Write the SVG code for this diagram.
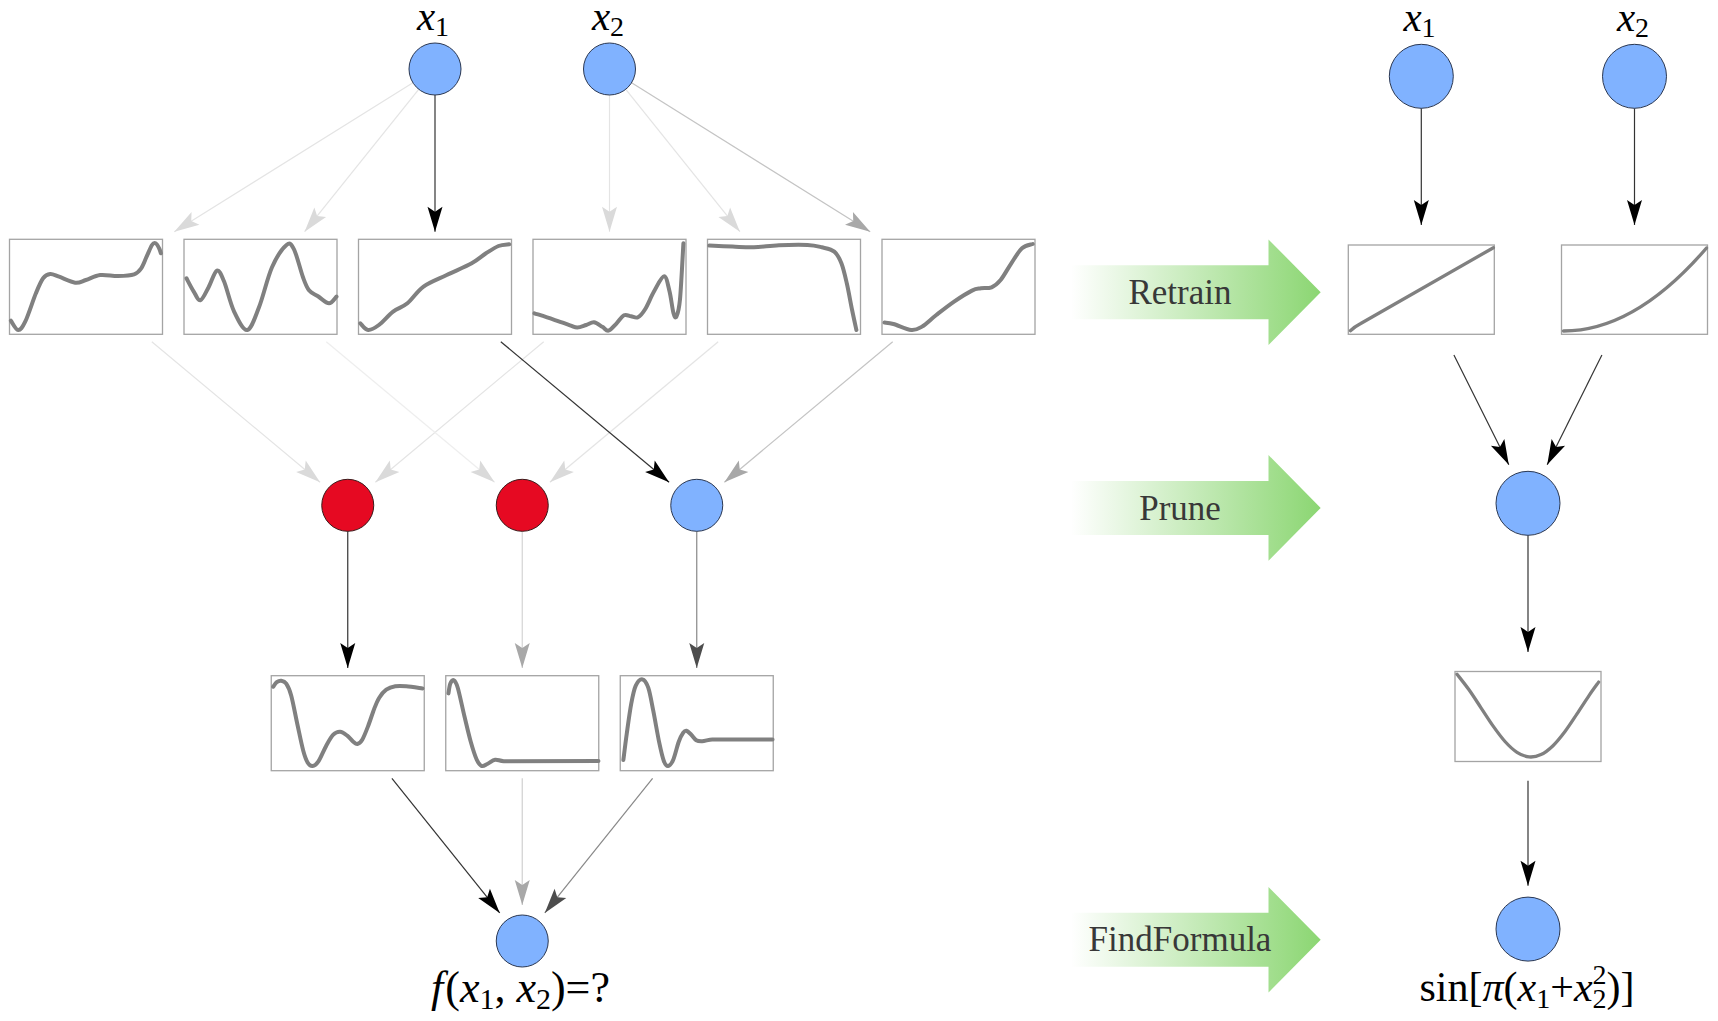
<svg xmlns="http://www.w3.org/2000/svg" width="1718" height="1021" viewBox="0 0 1718 1021">
<defs>
<style>
.box{fill:#fff;stroke:#a4a4a4;stroke-width:1.3}
.crv{fill:none;stroke:#808080;stroke-width:4;stroke-linecap:round;stroke-linejoin:round}
.crv2{fill:none;stroke:#808080;stroke-width:3.3;stroke-linecap:round;stroke-linejoin:round}
.nb{fill:#80b2ff;stroke:#2b3852;stroke-width:1}
.nr{fill:#e60922;stroke:#3a1a1a;stroke-width:1}
.lbl{font-size:41px;fill:#000}
.lb2{font-size:44px;fill:#000}
.lb3{font-size:42px;fill:#000}
.it{font-style:italic}
.sub{font-size:28px;font-style:normal}
.sub2{font-size:30px;font-style:normal}
.step{font-size:35px;fill:#383838;text-anchor:middle}
.e line{stroke-width:1.2;fill:none}
.k{stroke:#333}
.d{stroke:#888}
.m{stroke:#c4c4c4}
.l{stroke:#e4e4e4}
</style>
<marker id="mk" viewBox="-26 -8 27 16" refX="0" refY="0" markerWidth="27" markerHeight="16" markerUnits="userSpaceOnUse" orient="auto"><path d="M0,0L-25,-7.5L-20,0L-25,7.5Z" fill="#000"/></marker>
<marker id="md" viewBox="-26 -8 27 16" refX="0" refY="0" markerWidth="27" markerHeight="16" markerUnits="userSpaceOnUse" orient="auto"><path d="M0,0L-25,-7.5L-20,0L-25,7.5Z" fill="#4d4d4d"/></marker>
<marker id="mm" viewBox="-26 -8 27 16" refX="0" refY="0" markerWidth="27" markerHeight="16" markerUnits="userSpaceOnUse" orient="auto"><path d="M0,0L-25,-7.5L-20,0L-25,7.5Z" fill="#a8a8a8"/></marker>
<marker id="ml" viewBox="-26 -8 27 16" refX="0" refY="0" markerWidth="27" markerHeight="16" markerUnits="userSpaceOnUse" orient="auto"><path d="M0,0L-25,-7.5L-20,0L-25,7.5Z" fill="#dadada"/></marker>
<linearGradient id="gg" gradientUnits="userSpaceOnUse" x1="1071" y1="0" x2="1321" y2="0"><stop offset="0" stop-color="#ffffff"/><stop offset="1" stop-color="#8bd672"/></linearGradient>
</defs>
<rect width="1718" height="1021" fill="#fff"/>

<g id="connectors" class="e">
<line class="l" x1="412.9" y1="82.8" x2="174.3" y2="231.7" marker-end="url(#ml)"/>
<line class="l" x1="418.7" y1="89.3" x2="304.6" y2="231.7" marker-end="url(#ml)"/>
<line class="k" x1="435" y1="95" x2="435" y2="231.7" marker-end="url(#mk)"/>
<line class="l" x1="609.5" y1="95" x2="609.5" y2="231.7" marker-end="url(#ml)"/>
<line class="l" x1="625.8" y1="89.3" x2="739.9" y2="231.7" marker-end="url(#ml)"/>
<line class="m" x1="631.6" y1="82.8" x2="870.2" y2="231.7" marker-end="url(#mm)"/>
<line class="l" x1="151.8" y1="341.7" x2="320.1" y2="482.2" marker-end="url(#ml)"/>
<line class="l" x1="543.7" y1="341.7" x2="375.4" y2="482.2" marker-end="url(#ml)"/>
<line class="l" x1="326.3" y1="341.7" x2="494.6" y2="482.2" marker-end="url(#ml)" style="stroke:#eeeeee"/>
<line class="l" x1="718.2" y1="341.7" x2="549.9" y2="482.2" marker-end="url(#ml)"/>
<line class="k" x1="500.8" y1="341.7" x2="669.1" y2="482.2" marker-end="url(#mk)"/>
<line class="m" x1="892.7" y1="341.7" x2="724.4" y2="482.2" marker-end="url(#mm)"/>
<line class="k" x1="347.75" y1="531.3" x2="347.75" y2="668.1" marker-end="url(#mk)"/>
<line class="m" x1="522.25" y1="531.3" x2="522.25" y2="668.1" marker-end="url(#mm)" style="stroke:#d4d4d4"/>
<line class="d" x1="696.75" y1="531.3" x2="696.75" y2="668.1" marker-end="url(#md)"/>
<line class="k" x1="391.9" y1="778.3" x2="499.7" y2="912.9" marker-end="url(#mk)"/>
<line class="m" x1="522.25" y1="778.3" x2="522.25" y2="905" marker-end="url(#mm)" style="stroke:#d0d0d0"/>
<line class="d" x1="652.6" y1="778.3" x2="544.8" y2="912.9" marker-end="url(#md)"/>
<line class="k" x1="1421.3" y1="108.3" x2="1421.3" y2="225" marker-end="url(#mk)"/>
<line class="k" x1="1634.5" y1="108.3" x2="1634.5" y2="225" marker-end="url(#mk)"/>
<line class="k" x1="1453.9" y1="355" x2="1508.8" y2="464.8" marker-end="url(#mk)"/>
<line class="k" x1="1601.9" y1="355" x2="1547.2" y2="464.8" marker-end="url(#mk)"/>
<line class="k" x1="1528" y1="535.3" x2="1528" y2="651.9" marker-end="url(#mk)"/>
<line class="k" x1="1528" y1="780.7" x2="1528" y2="885.7" marker-end="url(#mk)"/>
</g>

<g id="in-x1"><circle class="nb" cx="435" cy="69" r="26"/><text class="lbl" font-family="Liberation Serif, Times New Roman, serif" x="433" y="30" text-anchor="middle"><tspan class="it">x</tspan><tspan class="sub" dy="6">1</tspan></text></g>
<g id="in-x2"><circle class="nb" cx="609.5" cy="69" r="26"/><text class="lbl" font-family="Liberation Serif, Times New Roman, serif" x="608" y="30" text-anchor="middle"><tspan class="it">x</tspan><tspan class="sub" dy="6">2</tspan></text></g>

<g id="f1" transform="translate(9.5,239.3)"><rect class="box" width="153" height="95"/><path class="crv" d="M1.4,81.4C2.6,82.95 6.22,90.53 8.6,90.7C10.98,90.87 12.73,88.52 15.7,82.4C18.67,76.28 23.42,61.23 26.4,54C29.38,46.77 31.22,42.22 33.6,39C35.98,35.78 38.03,34.97 40.7,34.7C43.37,34.43 45.43,35.95 49.6,37.4C53.77,38.85 61.23,42.85 65.7,43.4C70.17,43.95 72.23,41.98 76.4,40.7C80.57,39.42 85.33,36.37 90.7,35.7C96.07,35.03 102.95,36.82 108.6,36.7C114.25,36.58 120.75,36.28 124.6,35C128.45,33.72 129.62,31.93 131.7,29C133.78,26.07 135.3,21.28 137.1,17.4C138.9,13.52 141,7.93 142.5,5.7C144,3.47 144.92,3.45 146.1,4C147.28,4.55 148.72,7.33 149.6,9C150.48,10.67 151.1,13.17 151.4,14"/></g>
<g id="f2" transform="translate(184,239.3)"><rect class="box" width="153" height="95"/><path class="crv" d="M2.5,39C3.68,41.17 7.28,48.38 9.6,52C11.92,55.62 13.9,61.67 16.4,61C18.9,60.33 21.85,52.95 24.6,48C27.35,43.05 30.33,32.3 32.9,31.3C35.47,30.3 37.15,35.22 40,42C42.85,48.78 46.13,63.88 50,72C53.87,80.12 59.03,91.37 63.2,90.7C67.37,90.03 70.87,78.45 75,68C79.13,57.55 83.42,38.38 88,28C92.58,17.62 98.83,8.7 102.5,5.7C106.17,2.7 107.25,4.62 110,10C112.75,15.38 116.5,31.17 119,38C121.5,44.83 122.5,47.83 125,51C127.5,54.17 130.67,54.83 134,57C137.33,59.17 141.92,63.95 145,64C148.08,64.05 151.25,58.42 152.5,57.3"/></g>
<g id="f3" transform="translate(358.5,239.3)"><rect class="box" width="153" height="95"/><path class="crv" d="M1.8,84C3.1,85.12 6.5,90.42 9.6,90.7C12.7,90.98 16.23,88.77 20.4,85.7C24.57,82.63 29.85,75.92 34.6,72.3C39.35,68.68 43.83,68.17 48.9,64C53.97,59.83 58.45,52.02 65,47.3C71.55,42.58 80.17,39.58 88.2,35.7C96.23,31.82 106.65,27.62 113.2,24C119.75,20.38 123.03,16.88 127.5,14C131.97,11.12 136.13,8.2 140,6.7C143.87,5.2 148.92,5.28 150.7,5"/></g>
<g id="f4" transform="translate(533,239.3)"><rect class="box" width="153" height="95"/><path class="crv" d="M1.4,74C4.5,75 14.07,78 20,80C25.93,82 32.95,84.62 37,86C41.05,87.38 41.6,88.35 44.3,88.3C47,88.25 50.42,86.58 53.2,85.7C55.98,84.82 58.32,82.7 61,83C63.68,83.3 66.88,86.12 69.3,87.5C71.72,88.88 73.12,91.88 75.5,91.3C77.88,90.72 81.02,86.55 83.6,84C86.18,81.45 88.6,77.17 91,76C93.4,74.83 95.67,76.67 98,77C100.33,77.33 102.65,79.17 105,78C107.35,76.83 109.42,74.33 112.1,70C114.78,65.67 117.93,57.5 121.1,52C124.27,46.5 128.53,37 131.1,37C133.67,37 134.93,45.83 136.5,52C138.07,58.17 139.33,69.83 140.5,74C141.67,78.17 142.42,79.33 143.5,77C144.58,74.67 145.85,72.17 147,60C148.15,47.83 149.83,13.33 150.4,4"/></g>
<g id="f5" transform="translate(707.5,239.3)"><rect class="box" width="153" height="95"/><path class="crv" d="M1.8,6.3C5.67,6.47 17.57,7.02 25,7.3C32.43,7.58 38.67,8.22 46.4,8C54.13,7.78 62.47,6.38 71.4,6C80.33,5.62 92.85,5.37 100,5.7C107.15,6.03 109.83,6.9 114.3,8C118.77,9.1 123.53,9.63 126.8,12.3C130.07,14.97 131.82,18.72 133.9,24C135.98,29.28 137.52,36.22 139.3,44C141.08,51.78 143,62.92 144.6,70.7C146.2,78.48 148.18,87.37 148.9,90.7"/></g>
<g id="f6" transform="translate(882,239.3)"><rect class="box" width="153" height="95"/><path class="crv" d="M2.5,83.3C3.98,83.53 6.93,83.47 11.4,84.7C15.87,85.93 24.53,90.27 29.3,90.7C34.07,91.13 35.83,89.8 40,87.3C44.17,84.8 48.95,79.87 54.3,75.7C59.65,71.53 66.15,66.37 72.1,62.3C78.05,58.23 85.53,53.52 90,51.3C94.47,49.08 95.63,49.55 98.9,49C102.17,48.45 106.32,49.38 109.6,48C112.88,46.62 115.32,44.7 118.6,40.7C121.88,36.7 125.73,29.28 129.3,24C132.87,18.72 136.43,12.22 140,9C143.57,5.78 148.92,5.42 150.7,4.7"/></g>

<g id="h1"><circle class="nr" cx="347.75" cy="505.3" r="26"/></g>
<g id="h2"><circle class="nr" cx="522.25" cy="505.3" r="26"/></g>
<g id="h3"><circle class="nb" cx="696.75" cy="505.3" r="26"/></g>

<g id="g1" transform="translate(271.25,675.7)"><rect class="box" width="153" height="95"/><path class="crv" d="M1.9,11C2.5,10.25 4.15,7.5 5.5,6.5C6.85,5.5 8.42,4.75 10,5C11.58,5.25 13.33,5.5 15,8C16.67,10.5 18.17,13.33 20,20C21.83,26.67 24,38.83 26,48C28,57.17 30.25,68.5 32,75C33.75,81.5 34.95,84.45 36.5,87C38.05,89.55 39.55,90.47 41.3,90.3C43.05,90.13 44.72,89.38 47,86C49.28,82.62 52.5,74.5 55,70C57.5,65.5 59.68,61.33 62,59C64.32,56.67 66.57,55.83 68.9,56C71.23,56.17 73.82,58.33 76,60C78.18,61.67 80.32,64.62 82,66C83.68,67.38 84.6,68.63 86.1,68.3C87.6,67.97 89.18,67.05 91,64C92.82,60.95 95,55.17 97,50C99,44.83 101.17,37.67 103,33C104.83,28.33 106,25.17 108,22C110,18.83 112.33,15.92 115,14C117.67,12.08 120.67,11.08 124,10.5C127.33,9.92 130.47,10.13 135,10.5C139.53,10.87 148.5,12.33 151.2,12.7"/></g>
<g id="g2" transform="translate(445.75,675.7)"><rect class="box" width="153" height="95"/><path class="crv" d="M2.7,17.7C3,16.08 3.62,10.2 4.5,8C5.38,5.8 6.75,3.83 8,4.5C9.25,5.17 10.2,5.92 12,12C13.8,18.08 16.63,32 18.8,41C20.97,50 22.97,58.83 25,66C27.03,73.17 29.17,79.95 31,84C32.83,88.05 34.17,89.63 36,90.3C37.83,90.97 39.77,89.05 42,88C44.23,86.95 46.73,84.42 49.4,84C52.07,83.58 53.73,85.25 58,85.5L152.7,85.3"/></g>
<g id="g3" transform="translate(620.25,675.7)"><rect class="box" width="153" height="95"/><path class="crv" d="M3.1,84.3C3.67,79.92 5.18,67.38 6.5,58C7.82,48.62 9.5,36 11,28C12.5,20 13.63,14.05 15.5,10C17.37,5.95 20.12,3.37 22.2,3.7C24.28,4.03 26.2,6.78 28,12C29.8,17.22 31.17,25.83 33,35C34.83,44.17 37.25,58.67 39,67C40.75,75.33 42.03,81.12 43.5,85C44.97,88.88 46.22,90.47 47.8,90.3C49.38,90.13 51.22,88.05 53,84C54.78,79.95 56.83,70.5 58.5,66C60.17,61.5 61.72,58.83 63,57C64.28,55.17 64.87,54.67 66.2,55C67.53,55.33 69.37,57.42 71,59C72.63,60.58 74.17,63.42 76,64.5C77.83,65.58 79.33,65.63 82,65.5C84.67,65.37 89,63.7 92,63.7L152.3,63.7"/></g>

<g id="out"><circle class="nb" cx="522.25" cy="941" r="26"/><text class="lb2" font-family="Liberation Serif, Times New Roman, serif" x="520.5" y="1002" text-anchor="middle"><tspan class="it">f</tspan><tspan dx="2">(</tspan><tspan class="it">x</tspan><tspan class="sub2" dy="7">1</tspan><tspan dy="-7">, </tspan><tspan class="it">x</tspan><tspan class="sub2" dy="7">2</tspan><tspan dy="-7">)=?</tspan></text></g>

<g id="step-retrain"><path fill="url(#gg)" d="M1071,265.2H1268.5V239.4L1320.7,292.2L1268.5,345V319.2H1071Z"/><text class="step" font-family="Liberation Serif, Times New Roman, serif" x="1180" y="303.8">Retrain</text></g>
<g id="step-prune"><path fill="url(#gg)" d="M1071,480.9H1268.5V455.1L1320.7,507.9L1268.5,560.7V534.9H1071Z"/><text class="step" font-family="Liberation Serif, Times New Roman, serif" x="1180" y="519.5">Prune</text></g>
<g id="step-findformula"><path fill="url(#gg)" d="M1071,912.8H1268.5V887L1320.7,939.8L1268.5,992.6V966.8H1071Z"/><text class="step" font-family="Liberation Serif, Times New Roman, serif" x="1180" y="951">FindFormula</text></g>

<g id="r-x1"><circle class="nb" cx="1421.3" cy="76.3" r="32"/><text class="lbl" font-family="Liberation Serif, Times New Roman, serif" x="1419.5" y="30.5" text-anchor="middle"><tspan class="it">x</tspan><tspan class="sub" dy="6">1</tspan></text></g>
<g id="r-x2"><circle class="nb" cx="1634.5" cy="76.3" r="32"/><text class="lbl" font-family="Liberation Serif, Times New Roman, serif" x="1633" y="30.5" text-anchor="middle"><tspan class="it">x</tspan><tspan class="sub" dy="6">2</tspan></text></g>
<g id="r-f1" transform="translate(1348.3,245)"><rect class="box" width="146" height="89.3"/><path class="crv2" d="M2.1,85.7Q6,82 12,78.8L145.1,2.7"/></g>
<g id="r-f2" transform="translate(1561.5,245)"><rect class="box" width="146" height="89.3"/><path class="crv2" d="M2,86Q73.5,86 145,3"/></g>
<g id="r-h"><circle class="nb" cx="1528" cy="503.3" r="32"/></g>
<g id="r-g" transform="translate(1455,671.5)"><rect class="box" width="146" height="90"/><path class="crv2" d="M2,2.7C4,5.3 10,12.7 14,18.3C18,23.9 22,30.28 26,36.3C30,42.32 34,48.78 38,54.4C42,60.02 46,65.6 50,70C54,74.4 58,78.23 62,80.8C66,83.37 70,85.02 74,85.4C78,85.78 82,84.97 86,83.1C90,81.23 94,78.05 98,74.2C102,70.35 106,65.3 110,60C114,54.7 118,48.38 122,42.4C126,36.42 130.4,29.4 134,24.1C137.6,18.8 142,12.85 143.6,10.6"/></g>
<g id="r-out"><circle class="nb" cx="1528" cy="929.1" r="32"/><text class="lb3" font-family="Liberation Serif, Times New Roman, serif" x="1527" y="1001" text-anchor="middle">sin[<tspan class="it">π</tspan>(<tspan class="it">x</tspan><tspan class="sub" dy="7">1</tspan><tspan dy="-7">+</tspan><tspan class="it">x</tspan><tspan class="sub" dy="7">2</tspan><tspan class="sub" dx="-14" dy="-24">2</tspan><tspan dy="17">)]</tspan></text></g>
</svg>
